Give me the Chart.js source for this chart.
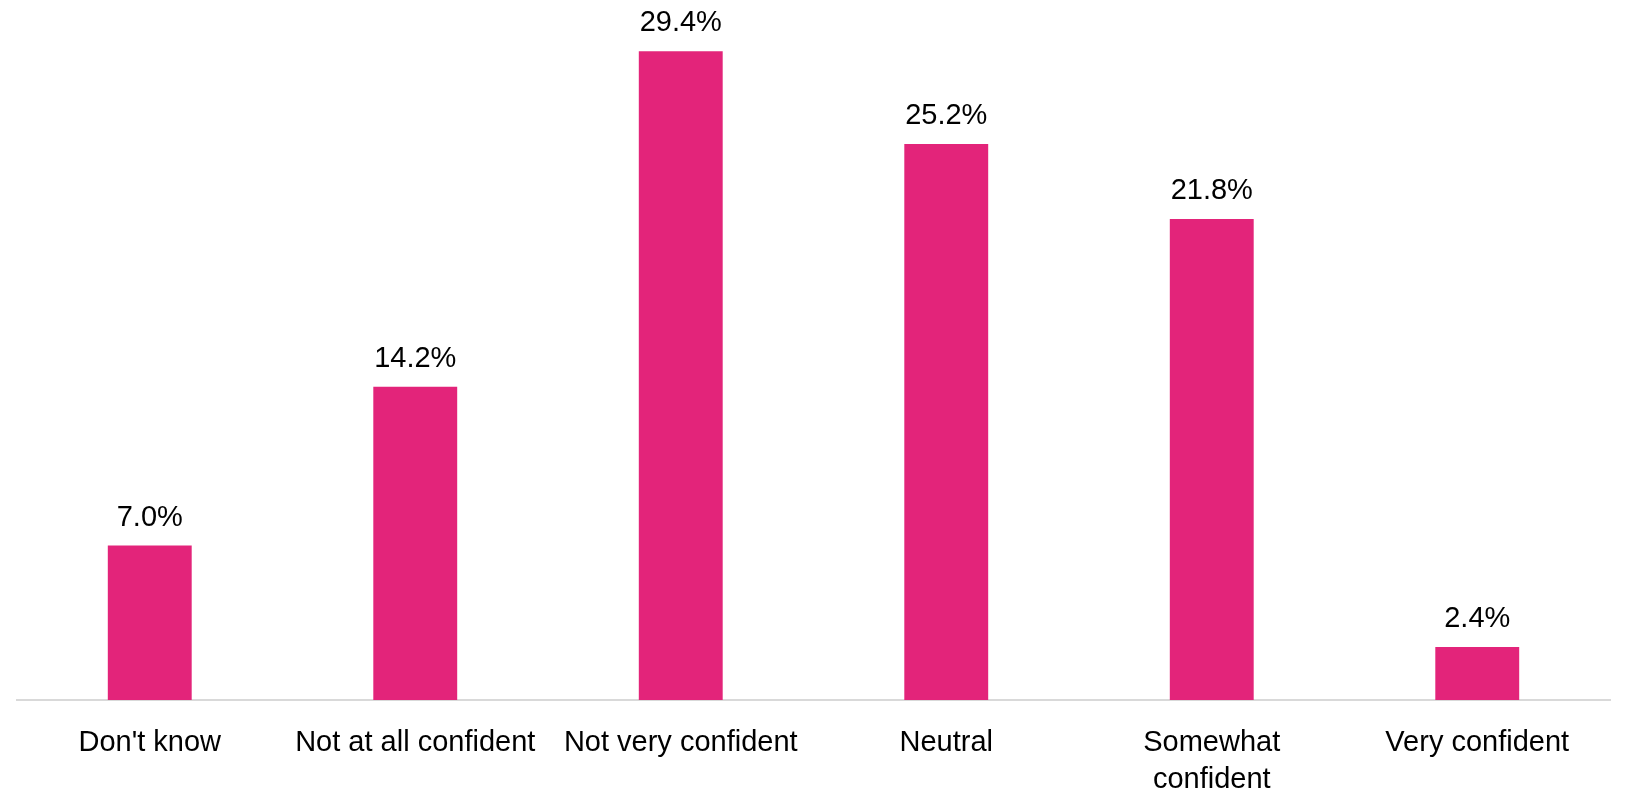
<!DOCTYPE html>
<html>
<head>
<meta charset="utf-8">
<script src="https://cdn.jsdelivr.net/npm/chart.js@4/dist/chart.umd.min.js"></script>
<style>
    html, body { margin: 0; padding: 0; background: #ffffff; }
    #wrap { width: 1631px; height: 795px; position: relative; }
</style>
</head>
<body>
<div id="wrap"><canvas id="confidenceChart"></canvas></div>
<script>
// Chart data
const categories = ["Don't know", 'Not at all confident', 'Not very confident', 'Neutral', ['Somewhat', 'confident'], 'Very confident'];
const shares = [7.0, 14.2, 29.4, 25.2, 21.8, 2.4];

const barColor = '#E3247A';
const labelFont = "'Liberation Sans', Arial, sans-serif";

// Draw the value labels above each bar
const valueLabels = {
    id: 'valueLabels',
    afterDatasetsDraw(chart) {
        const ctx = chart.ctx;
        const meta = chart.getDatasetMeta(0);
        ctx.save();
        ctx.font = '29px ' + labelFont;
        ctx.fillStyle = '#000000';
        ctx.textAlign = 'center';
        ctx.textBaseline = 'alphabetic';
        meta.data.forEach((bar, i) => {
            ctx.fillText(shares[i].toFixed(1) + '%', bar.x, bar.y - 20);
        });
        ctx.restore();
    }
};

document.addEventListener('DOMContentLoaded', function() {
    const ctx = document.getElementById('confidenceChart');

    new Chart(ctx, {
        type: 'bar',
        data: {
            labels: categories,
            datasets: [{
                data: shares,
                backgroundColor: barColor,
                borderWidth: 0,
                categoryPercentage: 1,
                barPercentage: 0.316
            }]
        },
        options: {
            responsive: true,
            maintainAspectRatio: false,
            animation: false,
            layout: {
                padding: { top: 38, left: 17, right: 21, bottom: 0 }
            },
            plugins: {
                legend: { display: false },
                tooltip: { enabled: false }
            },
            scales: {
                y: {
                    display: false,
                    min: 0,
                    max: 30
                },
                x: {
                    grid: { display: false, drawTicks: false },
                    border: { display: true, color: '#d9d9d9', width: 2 },
                    ticks: {
                        color: '#000000',
                        font: { family: labelFont, size: 29, lineHeight: 1.28 },
                        padding: 24,
                        maxRotation: 0,
                        minRotation: 0,
                        autoSkip: false
                    },
                    afterFit(scale) {
                        scale.height = 95;
                    }
                }
            }
        },
        plugins: [valueLabels]
    });
});
</script>
</body>
</html>
